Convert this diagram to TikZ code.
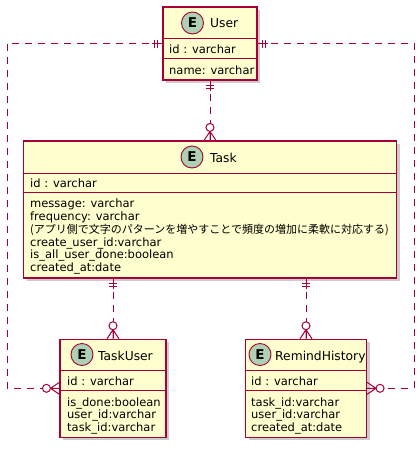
\documentclass[tikz,border=0pt]{standalone}
\usepackage{fontspec}
\setmainfont{DejaVu Sans}
\newfontfamily\jpfont{Noto Sans CJK JP}
\usetikzlibrary{shadows}
\definecolor{umlred}{HTML}{A80036}
\definecolor{umlfill}{HTML}{FEFECE}
\definecolor{umlgreen}{HTML}{ADD1B2}

\begin{document}
\begin{tikzpicture}
[x=1pt, y=1pt,
 every node/.style={inner sep=0pt},
 entity/.style={rectangle, draw=umlred, fill=umlfill, line width=1.1pt, drop shadow={shadow xshift=3pt, shadow yshift=-3pt, fill=black!40, opacity=0.5}},
 badge/.style={circle, minimum size=22pt, draw=umlred, fill=umlgreen, line width=0.9pt, font=\fontsize{13.5}{14}\selectfont\bfseries},
 entname/.style={anchor=base west, font=\fontsize{12.3}{14}\selectfont},
 attr/.style={anchor=base west, align=left, font=\fontsize{11.5}{12.85}\selectfont},
 divider/.style={draw=umlred, line width=1pt},
 relation/.style={draw=umlred, line width=1pt, dash pattern=on 7pt off 6pt},
 onlyone/.pic={\draw[umlred, line width=1pt] (0,0) -- (10,0) (5,-4) -- (5,4) (8,-4) -- (8,4);},
 zeromany/.pic={\draw[umlred, line width=1pt] (0,-6) -- (9,0) -- (0,6) (0,0) -- (9,0); \draw[umlred, line width=1pt, fill=white] (13,0) circle (4);}
]
\useasboundingbox (0,0) rectangle (420,-451);

% entities
\node (user) [entity, minimum width=94pt, minimum height=73pt] at (210pt, -43.5pt) {};
\node (task) [entity, minimum width=373pt, minimum height=137pt] at (210pt, -209.5pt) {};
\node (taskuser) [entity, minimum width=106pt, minimum height=98pt] at (113pt, -388.3pt) {};
\node (remind) [entity, minimum width=121pt, minimum height=98pt] at (306pt, -388.3pt) {};

% User
\draw[divider] ([yshift=-32pt]user.north west) -- ([yshift=-32pt]user.north east);
\draw[divider] ([yshift=-52pt]user.north west) -- ([yshift=-52pt]user.north east);
\node (userE) [badge] at (192.5pt, -23pt) {E};
\node (usertitle) [entname] at (210pt, -27pt) {User};
\node (userid) [attr] at (169pt, -53.3pt) {id : varchar};
\node (userattr) [attr] at (169pt, -74pt) {name: varchar};

% Task (multi-line nodes sit on their last baseline)
\draw[divider] ([yshift=-33pt]task.north west) -- ([yshift=-33pt]task.north east);
\draw[divider] ([yshift=-52pt]task.north west) -- ([yshift=-52pt]task.north east);
\node (taskE) [badge] at (192pt, -157pt) {E};
\node (tasktitle) [entname] at (210pt, -162pt) {Task};
\node (taskid) [attr] at (30pt, -187.3pt) {id : varchar};
\node (taskattr) [attr] at (30pt, -271.7pt) {message: varchar\\frequency: varchar\\{\jpfont\fontsize{11}{12.85}\selectfont (アプリ側で文字のパターンを増やすことで頻度の増加に柔軟に対応する)}\\create\_user\_id:varchar\\is\_all\_user\_done:boolean\\created\_at:date};

% TaskUser
\draw[divider] ([yshift=-31.5pt]taskuser.north west) -- ([yshift=-31.5pt]taskuser.north east);
\draw[divider] ([yshift=-52pt]taskuser.north west) -- ([yshift=-52pt]taskuser.north east);
\node (taskuserE) [badge] at (82pt, -354.5pt) {E};
\node (taskusertitle) [entname] at (98pt, -360pt) {TaskUser};
\node (taskuserid) [attr] at (67pt, -385pt) {id : varchar};
\node (taskuserattr) [attr] at (67pt, -431.7pt) {is\_done:boolean\\user\_id:varchar\\task\_id:varchar};

% RemindHistory
\draw[divider] ([yshift=-31.5pt]remind.north west) -- ([yshift=-31.5pt]remind.north east);
\draw[divider] ([yshift=-52pt]remind.north west) -- ([yshift=-52pt]remind.north east);
\node (remindE) [badge] at (260pt, -354.5pt) {E};
\node (remindtitle) [entname] at (275pt, -360pt) {RemindHistory};
\node (remindid) [attr] at (251pt, -385pt) {id : varchar};
\node (remindattr) [attr] at (251pt, -431.7pt) {task\_id:varchar\\user\_id:varchar\\created\_at:date};

% relations
\coordinate (leftbend) at (7pt, -43.5pt);
\coordinate (rightbend) at (414pt, -43.5pt);
\draw[relation] (user) -- (task);
\pic[rotate=-90] at (user.south) {onlyone};
\pic[rotate=90] at (task.north) {zeromany};
\draw[relation] (task.south -| taskuser.north) -- (taskuser.north);
\pic[rotate=-90] at (task.south -| taskuser.north) {onlyone};
\pic[rotate=90] at (taskuser.north) {zeromany};
\draw[relation] (task.south -| remind.north) -- (remind.north);
\pic[rotate=-90] at (task.south -| remind.north) {onlyone};
\pic[rotate=90] at (remind.north) {zeromany};
\draw[relation] (user.west) -- (leftbend) |- (taskuser.west);
\pic[rotate=180] at (user.west) {onlyone};
\pic[rotate=180] at (taskuser.west) {zeromany};
\draw[relation] (user.east) -- (rightbend) |- (remind.east);
\pic at (user.east) {onlyone};
\pic at (remind.east) {zeromany};
\end{tikzpicture}
\end{document}
